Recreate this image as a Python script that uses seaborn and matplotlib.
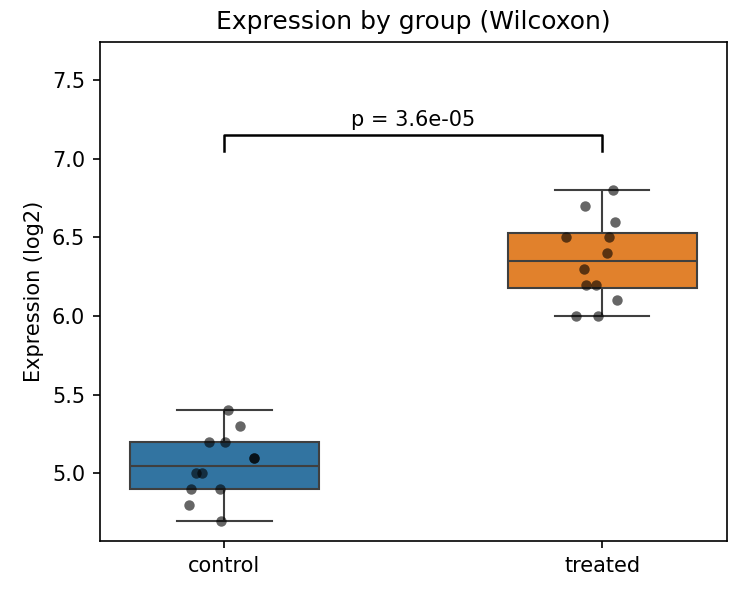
import numpy as np
import pandas as pd
import matplotlib
matplotlib.use("Agg")
import matplotlib.pyplot as plt
import seaborn as sns

# valores
grupos = ["control", "treated"]
control = [5.4, 5.3, 5.2, 5.2, 5.1, 5.1, 5.0, 5.0, 4.9, 4.9, 4.8, 4.7]
treated = [6.8, 6.7, 6.6, 6.5, 6.5, 6.4, 6.3, 6.2, 6.2, 6.1, 6.0, 6.0]
p_valor = "p = 3.6e-05"

df = pd.DataFrame({
    "group": ["control"] * len(control) + ["treated"] * len(treated),
    "expr": control + treated,
})

np.random.seed(3)
fig, ax = plt.subplots(figsize=(5, 4), dpi=150)
sns.boxplot(data=df, x="group", y="expr", hue="group", order=grupos,
            width=0.5, fliersize=0, legend=False, ax=ax)
sns.stripplot(data=df, x="group", y="expr", order=grupos, color="black",
              alpha=0.6, size=5, jitter=0.1, ax=ax)

# barra de significância
y0, y1 = 7.05, 7.15
ax.plot([0, 0, 1, 1], [y0, y1, y1, y0], color="black", lw=1.2)
ax.text(0.5, y1 + 0.03, p_valor, ha="center", va="bottom", fontsize=10)

ax.set_xlim(-0.33, 1.33)
ax.set_ylim(4.57, 7.74)
ax.set_xlabel("")
ax.set_ylabel("Expression (log2)")
ax.set_title("Expression by group (Wilcoxon)")

plt.subplots_adjust(left=0.133, right=0.969, top=0.93, bottom=0.098)
plt.savefig("out.png")
